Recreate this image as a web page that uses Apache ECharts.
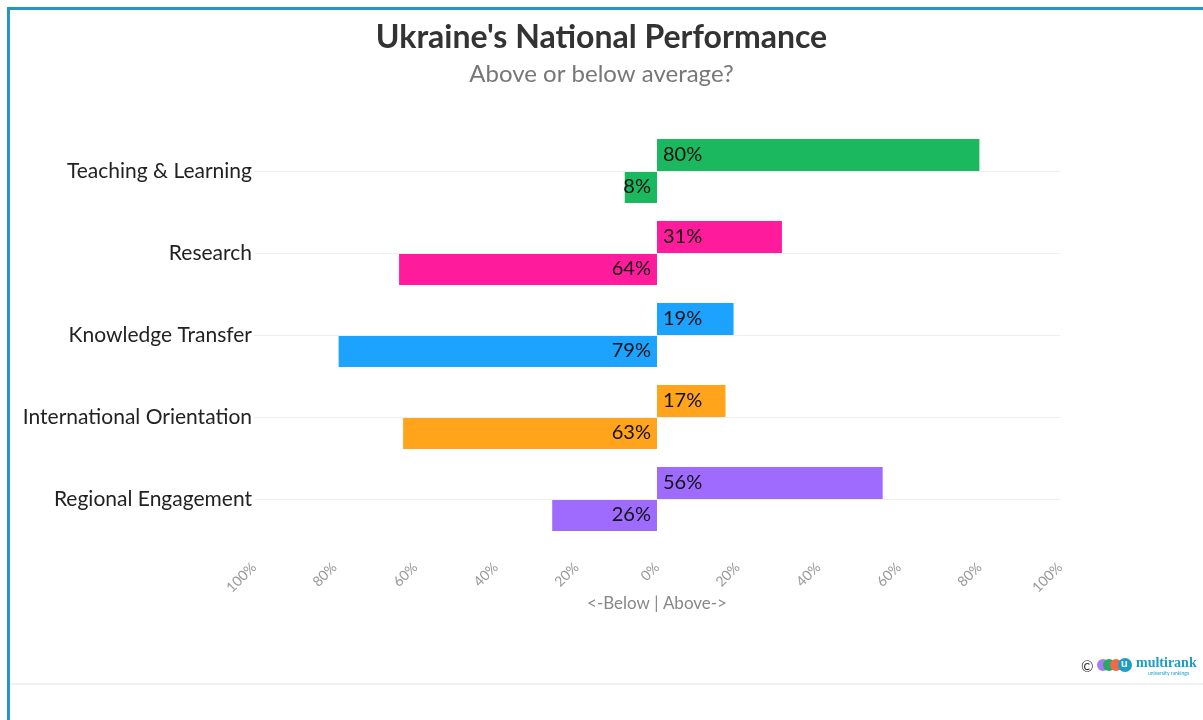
<!DOCTYPE html>
<html lang="en">
<head>
    <meta charset="utf-8">
    <title>Ukraine's National Performance</title>
    <script src="https://cdn.jsdelivr.net/npm/echarts@6/dist/echarts.min.js"></script>
    <style>
        html, body { margin: 0; padding: 0; background: #fff; }
        #frame {
            position: absolute; left: 7px; top: 7px; width: 1210px; height: 720px;
            border-top: 3px solid #2496c0; border-left: 3px solid #2496c0;
            box-sizing: border-box;
        }
        #chart { position: absolute; left: 0; top: 0; width: 1203px; height: 720px; }
    </style>
</head>
<body>
<div id="frame"></div>
<div id="chart"></div>
<script type="text/javascript">
    // data
    var categories = ['Teaching & Learning', 'Research', 'Knowledge Transfer', 'International Orientation', 'Regional Engagement'];
    var aboveValues = [80, 31, 19, 17, 56];
    var belowValues = [8, 64, 79, 63, 26];
    var barColors = ['#1cb85f', '#ff1c9c', '#1ba3ff', '#ffa41b', '#9f6bff'];
    var xTicks = [-100, -80, -60, -40, -20, 0, 20, 40, 60, 80, 100];

    var fontFam = 'Lato, "Source Sans Pro", "Noto Sans", sans-serif';

    function pct(v) { return Math.abs(v) + '%'; }

    var aboveData = aboveValues.map(function (v, i) {
        return { value: v, itemStyle: { color: barColors[i] } };
    });
    var belowData = belowValues.map(function (v, i) {
        return { value: -v, itemStyle: { color: barColors[i] } };
    });

    // center lines through each category
    var centerLines = categories.map(function (c) {
        return [{ coord: [xTicks[0], c] }, { coord: [xTicks[xTicks.length - 1], c] }];
    });

    var myChart = echarts.init(document.getElementById('chart'));

    var option = {
        animation: false,
        textStyle: { fontFamily: fontFam },
        title: {
            text: "Ukraine's National Performance",
            subtext: 'Above or below average?',
            left: 'center',
            top: 17,
            itemGap: 8,
            textStyle: { fontSize: 32, fontWeight: 'bold', color: '#333', fontFamily: fontFam },
            subtextStyle: { fontSize: 24, color: '#777', fontFamily: fontFam }
        },
        grid: {
            left: 254,
            right: 143,
            top: 130,
            bottom: 180,
            containLabel: false
        },
        xAxis: {
            type: 'value',
            min: -100,
            max: 100,
            interval: 20,
            name: '<-Below | Above->',
            nameLocation: 'middle',
            nameGap: 55,
            nameMoveOverlap: false,
            nameTextStyle: { fontSize: 17, color: '#888', fontFamily: fontFam },
            axisLine: { show: false },
            axisTick: { show: false },
            splitLine: { show: false },
            axisLabel: {
                rotate: 45,
                fontSize: 14,
                color: '#999',
                margin: 25,
                formatter: function (v) { return pct(v); }
            }
        },
        yAxis: {
            type: 'category',
            inverse: true,
            data: categories,
            axisLine: { show: false },
            axisTick: { show: false },
            splitLine: { show: false },
            axisLabel: { fontSize: 21, color: '#222', margin: 2 }
        },
        series: [
            {
                name: 'Above',
                type: 'bar',
                barWidth: 32,
                barGap: '0%',
                data: aboveData,
                label: {
                    show: true,
                    position: 'insideLeft',
                    distance: 6,
                    fontSize: 20,
                    color: '#111',
                    formatter: function (p) { return pct(p.value); }
                },
                z: 3
            },
            {
                name: 'Below',
                type: 'bar',
                barWidth: 32,
                barGap: '0%',
                data: belowData,
                label: {
                    show: true,
                    position: 'insideRight',
                    distance: 6,
                    fontSize: 20,
                    color: '#111',
                    formatter: function (p) { return pct(p.value); }
                },
                z: 3
            },
            {
                name: 'grid lines',
                type: 'line',
                data: [],
                silent: true,
                markLine: {
                    silent: true,
                    symbol: 'none',
                    label: { show: false },
                    lineStyle: { color: '#eeeeee', width: 1, type: 'solid' },
                    data: centerLines
                },
                z: 1
            }
        ],
        graphic: [
            {
                type: 'line',
                shape: { x1: 10, y1: 684, x2: 1203, y2: 684 },
                style: { stroke: '#e4e4e4', lineWidth: 1 }
            },
            {
                type: 'text',
                left: 1081, top: 660,
                style: { text: '©', fontSize: 15, fill: '#333', fontFamily: fontFam }
            },
            { type: 'circle', shape: { cx: 1103, cy: 665, r: 6 }, style: { fill: '#a77cf0' } },
            { type: 'circle', shape: { cx: 1109, cy: 665, r: 6 }, style: { fill: '#27a86a' } },
            { type: 'circle', shape: { cx: 1116, cy: 665, r: 6 }, style: { fill: '#ef6a4a' } },
            { type: 'circle', shape: { cx: 1125, cy: 665, r: 7 }, style: { fill: '#1b9fc4' } },
            {
                type: 'text',
                left: 1121, top: 657,
                style: { text: 'u', fontSize: 12, fontWeight: 'bold', fill: '#fff', fontFamily: fontFam }
            },
            {
                type: 'text',
                left: 1136, top: 656,
                style: { text: 'multirank', fontSize: 14, fontWeight: 'bold', fill: '#1b9fc4', fontFamily: '"Liberation Serif", serif' }
            },
            {
                type: 'text',
                left: 1148, top: 671,
                style: { text: 'university rankings', fontSize: 5, fill: '#1b9fc4', fontFamily: fontFam }
            }
        ]
    };

    myChart.setOption(option);

    window.addEventListener('resize', function () {
        myChart.resize();
    });
</script>
</body>
</html>
